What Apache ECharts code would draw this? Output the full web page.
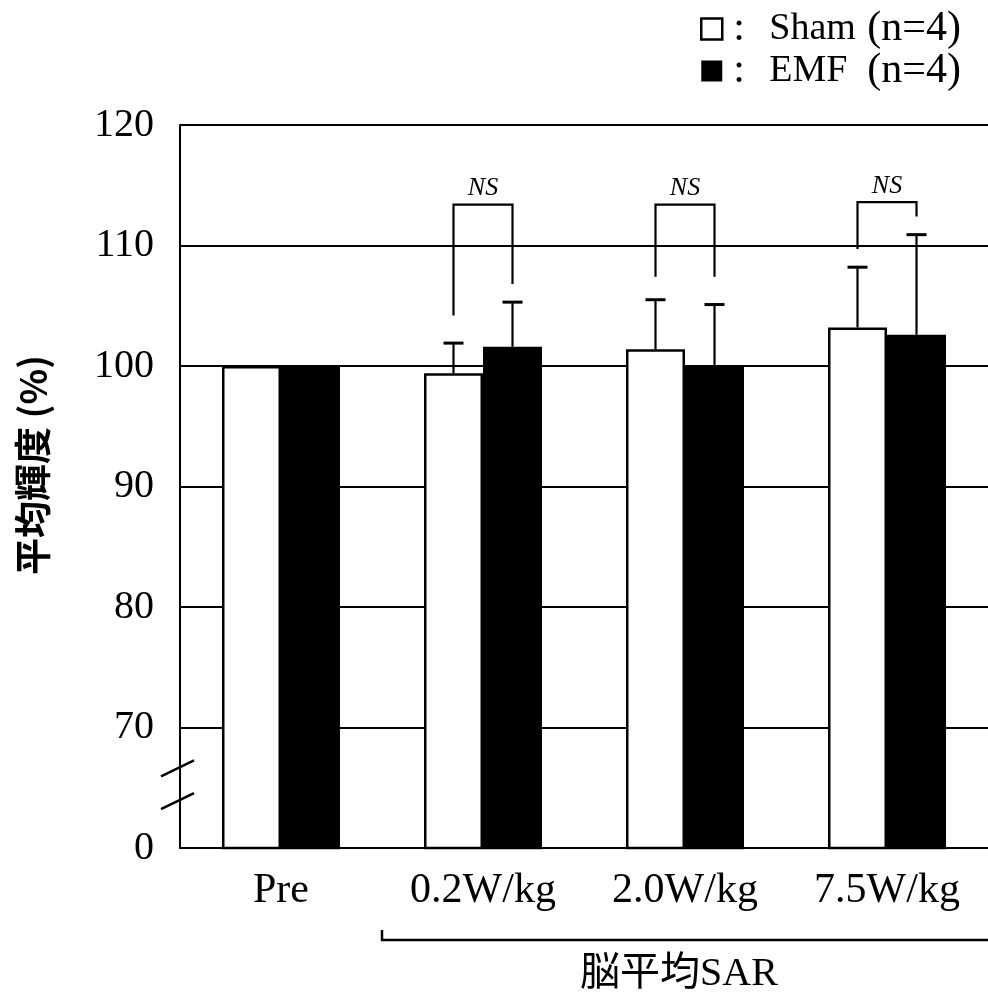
<!DOCTYPE html>
<html>
<head>
<meta charset="utf-8">
<script src="https://cdn.jsdelivr.net/npm/echarts@6/dist/echarts.min.js"></script>
<style>
  html, body { margin: 0; padding: 0; background: #fff; }
  #chart { width: 988px; height: 1003px; }
</style>
</head>
<body>
<div id="chart"></div>
<script>
// 平均輝度 (%) by 脳平均SAR, Sham vs EMF
const categories = ['Pre', '0.2W/kg', '2.0W/kg', '7.5W/kg']
const shamMean = [100, 99.4, 101.4, 103.2]
const emfMean = [100, 101.6, 100.0, 102.6]
// top of the (one-sided) error bars
const shamUpper = [null, 101.9, 105.5, 108.2]
const emfUpper = [null, 105.3, 105.1, 110.9]
// NS brackets: top, bottom of left leg, bottom of right leg
const bracketTop = [null, 113.4, 113.4, 113.6]
const bracketLeft = [null, 104.2, 107.4, 109.7]
const bracketRight = [null, 106.8, 107.4, 112.4]
const bracketText = [null, 'NS', 'NS', 'NS']
// axis value 60 stands for the broken "0"
const yTickLabels = { 60: '0', 70: '70', 80: '80', 90: '90', 100: '100', 110: '110', 120: '120' }

const SERIF = '"Liberation Serif", "Times New Roman", serif'
const BAR_W = 59

let errData = []
categories.forEach(function (c, i) {
    if (shamUpper[i] != null) errData.push([i, -1, shamMean[i], shamUpper[i]])
    if (emfUpper[i] != null) errData.push([i, 1, emfMean[i], emfUpper[i]])
})
let bracketData = []
categories.forEach(function (c, i) {
    if (bracketTop[i] != null) bracketData.push([i, bracketLeft[i], bracketRight[i], bracketTop[i], bracketText[i]])
})

let chart = echarts.init(document.getElementById('chart'))
chart.setOption({
    backgroundColor: '#fff',
    animation: false,
    grid: { left: 180, top: 125, width: 814, height: 723, containLabel: false },
    legend: {
        orient: 'vertical',
        left: 695,
        top: 3,
        itemWidth: 21,
        itemHeight: 21,
        itemGap: 0,
        icon: 'rect',
        data: [
            { name: 'Sham', itemStyle: { color: '#fff', borderColor: '#000', borderWidth: 2.5 } },
            { name: 'EMF', itemStyle: { color: '#000', borderColor: '#000', borderWidth: 0 } }
        ],
        formatter: function (name) {
            return '{a|:}{b|' + name + '}{c|(n=4)}'
        },
        textStyle: {
            fontFamily: SERIF, fontSize: 42, color: '#000', lineHeight: 42,
            rich: {
                a: { fontFamily: SERIF, fontSize: 42, width: 36, padding: [0, 0, 0, 6] },
                b: { fontFamily: SERIF, fontSize: 38, width: 98 },
                c: { fontFamily: SERIF, fontSize: 42 }
            }
        }
    },
    xAxis: {
        type: 'category',
        data: categories,
        axisLine: { lineStyle: { color: '#000', width: 2 } },
        axisTick: { inside: true, length: 7, lineStyle: { color: '#000', width: 1.5 } },
        axisLabel: { color: '#000', fontFamily: SERIF, fontSize: 42, margin: 22 },
        splitLine: { show: false }
    },
    yAxis: {
        type: 'value',
        min: 60,
        max: 120,
        interval: 10,
        axisLine: { show: true, lineStyle: { color: '#000', width: 2 } },
        axisTick: { show: false },
        axisLabel: {
            color: '#000', fontFamily: SERIF, fontSize: 40, margin: 26,
            formatter: function (v) { return yTickLabels[v] }
        },
        splitLine: { show: true, lineStyle: { color: '#000', width: 1.8 } }
    },
    graphic: [
        {
            type: 'text', x: 33, y: 465, rotation: Math.PI / 2,
            style: {
                text: '平均輝度 (%)', fill: '#000',
                font: 'bold 37px "Noto Sans CJK JP", sans-serif',
                textAlign: 'center', textVerticalAlign: 'middle'
            }
        }
    ],
    series: [
        {
            name: 'Sham', type: 'bar', data: shamMean, barWidth: BAR_W, barGap: '0%',
            itemStyle: { color: '#fff', borderColor: '#000', borderWidth: 2.5 }
        },
        {
            name: 'EMF', type: 'bar', data: emfMean, barWidth: BAR_W, barGap: '0%',
            itemStyle: { color: '#000', borderColor: '#000', borderWidth: 2.5 }
        },
        {
            // one-sided error bars
            type: 'custom', z: 5, clip: false,
            data: errData,
            encode: { x: 0, y: [2, 3] },
            renderItem: function (params, api) {
                let base = api.coord([api.value(0), api.value(2)])
                let top = api.coord([api.value(0), api.value(3)])
                let x = base[0] + api.value(1) * BAR_W / 2
                return {
                    type: 'group',
                    children: [
                        { type: 'line', shape: { x1: x, y1: base[1], x2: x, y2: top[1] }, style: { stroke: '#000', lineWidth: 2.2 } },
                        { type: 'line', shape: { x1: x - 10, y1: top[1], x2: x + 10, y2: top[1] }, style: { stroke: '#000', lineWidth: 3 } }
                    ]
                }
            }
        },
        {
            // NS brackets
            type: 'custom', z: 5, clip: false,
            data: bracketData,
            encode: { x: 0, y: [1, 2, 3] },
            renderItem: function (params, api) {
                let i = api.value(0)
                let c = api.coord([i, api.value(3)])
                let yl = api.coord([i, api.value(1)])[1]
                let yr = api.coord([i, api.value(2)])[1]
                let xl = c[0] - BAR_W / 2, xr = c[0] + BAR_W / 2
                return {
                    type: 'group',
                    children: [
                        { type: 'polyline', shape: { points: [[xl, yl], [xl, c[1]], [xr, c[1]], [xr, yr]] }, style: { stroke: '#000', lineWidth: 2.2, fill: null } },
                        { type: 'text', x: c[0], y: c[1] - 3, style: { text: bracketText[i], fill: '#000', font: 'italic 26px ' + SERIF, textAlign: 'center', textVerticalAlign: 'bottom' } }
                    ]
                }
            }
        },
        {
            // axis break marks and the SAR bracket under the labels
            type: 'custom', z: 6, clip: false,
            data: [[1, 60]],
            encode: { x: 0, y: 1 },
            renderItem: function (params, api) {
                let cs = params.coordSys
                let x0 = cs.x
                let yA = api.coord([0, 66.6])[1]
                let yB = api.coord([0, 63.9])[1]
                let bottom = cs.y + cs.height
                let xStart = api.coord([1, 60])[0] - api.size([1, 0])[0] / 2
                let xEnd = cs.x + cs.width
                let xMid = api.coord([2, 60])[0] - 6
                let stroke = { stroke: '#000', lineWidth: 2.5 }
                return {
                    type: 'group',
                    children: [
                        { type: 'line', shape: { x1: x0 - 19, y1: yA + 8, x2: x0 + 14, y2: yA - 8 }, style: stroke },
                        { type: 'line', shape: { x1: x0 - 19, y1: yB + 8, x2: x0 + 14, y2: yB - 8 }, style: stroke },
                        { type: 'polyline', shape: { points: [[xStart, bottom + 82], [xStart, bottom + 92], [xEnd, bottom + 92]] }, style: { stroke: '#000', lineWidth: 2.5, fill: null } },
                        { type: 'text', x: xMid, y: bottom + 126, style: { text: '脳平均SAR', fill: '#000', font: '40px ' + SERIF + ', "Noto Sans CJK JP"', textAlign: 'center', textVerticalAlign: 'middle' } }
                    ]
                }
            }
        }
    ]
})
</script>
</body>
</html>
